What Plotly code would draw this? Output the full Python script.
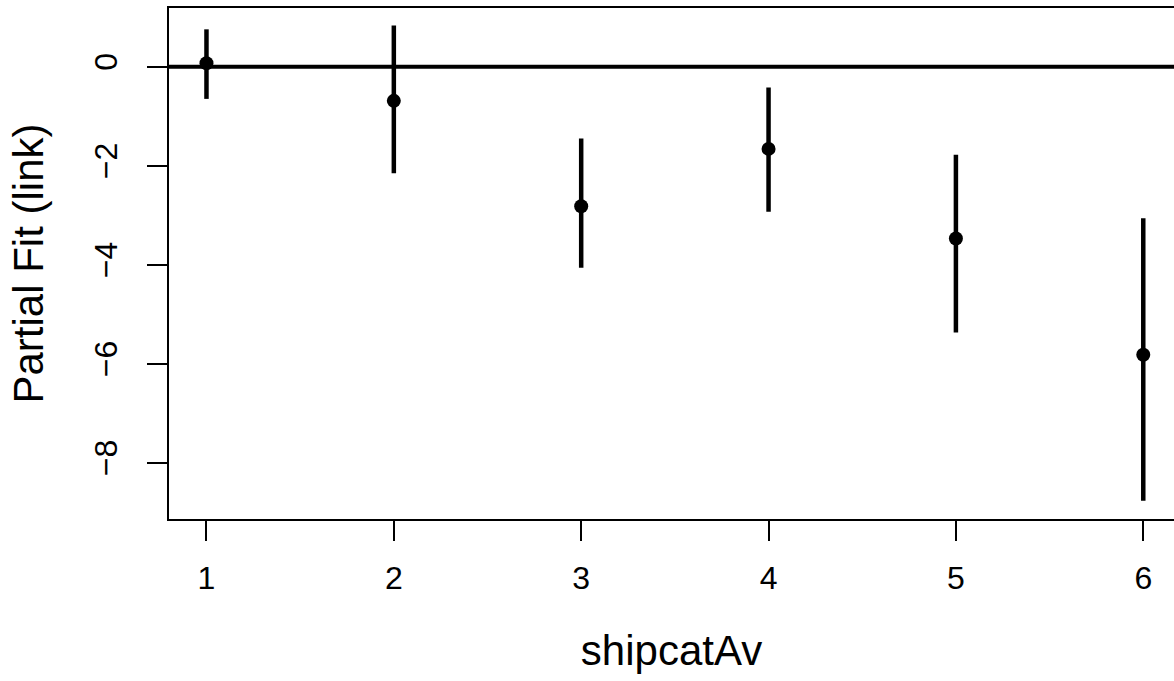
import plotly.graph_objects as go

categories = [1, 2, 3, 4, 5, 6]
fit = [0.07, -0.69, -2.82, -1.66, -3.47, -5.82]
upper = [0.755, 0.83, -1.45, -0.42, -1.78, -3.06]
lower = [-0.65, -2.15, -4.06, -2.93, -5.37, -8.77]
x_ticks = [1, 2, 3, 4, 5, 6]
y_ticks = [0, -2, -4, -6, -8]

FONT = "Liberation Sans, Arial, sans-serif"

fig = go.Figure()

# reference line at zero
fig.add_hline(y=0, line=dict(color="black", width=4))

# error bars as vertical segments
for c, lo, hi in zip(categories, lower, upper):
    fig.add_trace(go.Scatter(
        x=[c, c], y=[lo, hi], mode="lines",
        line=dict(color="black", width=4.5), showlegend=False, hoverinfo="skip"))

fig.add_trace(go.Scatter(
    x=categories, y=fit, mode="markers",
    marker=dict(color="black", size=14), showlegend=False))

fig.update_layout(
    width=1174, height=681,
    margin=dict(l=169, r=0, t=8, b=162),
    plot_bgcolor="white", paper_bgcolor="white",
    font=dict(family=FONT, color="black"),
)
fig.update_xaxes(
    range=[0.8, 6.164], tickvals=x_ticks, ticktext=[str(v) for v in x_ticks],
    showgrid=False, zeroline=False,
    showline=True, linecolor="black", linewidth=2, mirror=True,
    ticks="outside", ticklen=20, tickwidth=2, tickcolor="black",
    tickfont=dict(size=32), ticklabelstandoff=10,
    title=dict(text="shipcatAv", font=dict(size=42), standoff=40),
)
fig.update_yaxes(
    range=[-9.137, 1.186], tickvals=y_ticks, ticktext=["0", "\u22122", "\u22124", "\u22126", "\u22128"],
    showgrid=False, zeroline=False,
    showline=True, linecolor="black", linewidth=2,
    ticks="outside", ticklen=20, tickwidth=2, tickcolor="black",
    tickangle=-90, tickfont=dict(size=32), ticklabelstandoff=17,
    title=dict(text="Partial Fit (link)", font=dict(size=42), standoff=32),
)

fig.write_html("out.html", config={"displayModeBar": False},
               post_script="document.body.style.margin='0';")
